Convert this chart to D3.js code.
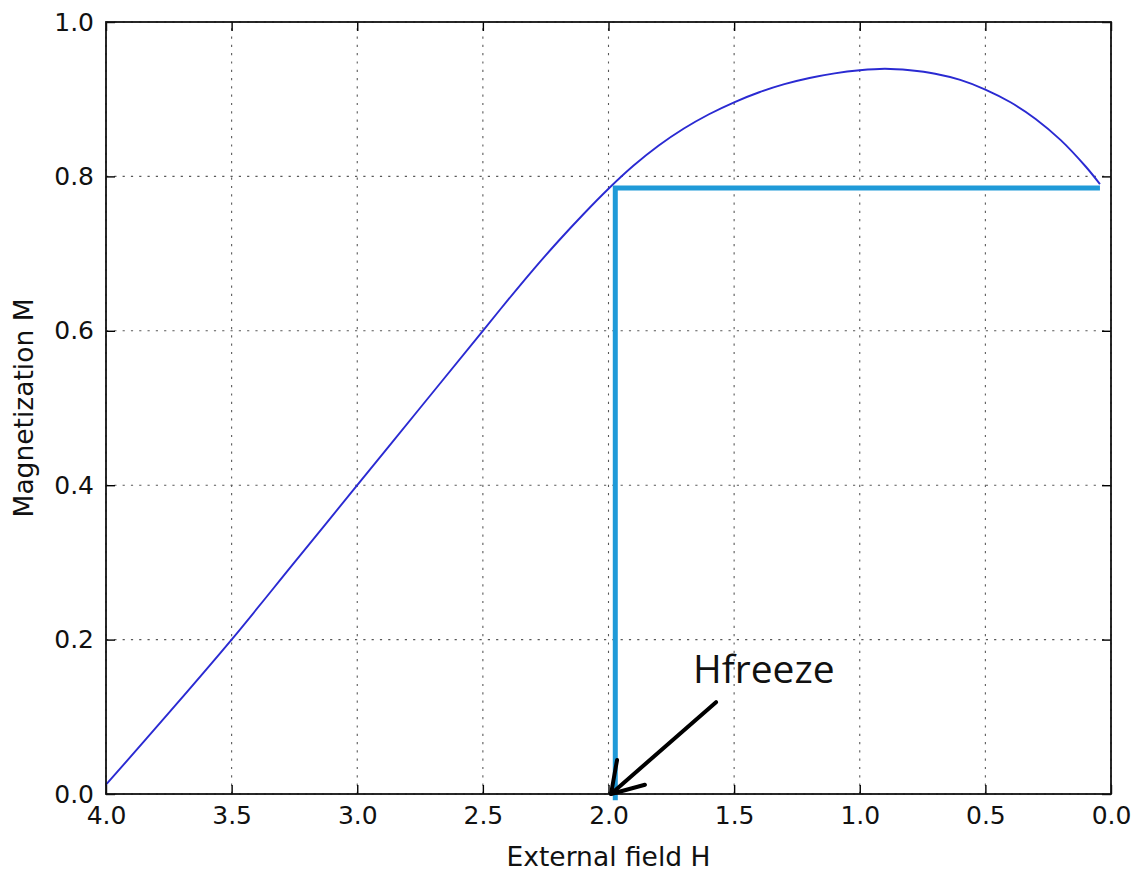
<!DOCTYPE html>
<html>
<head>
<meta charset="utf-8">
<script src="https://cdn.jsdelivr.net/npm/d3@7"></script>
<style>
  html, body { margin: 0; padding: 0; background: #fff; }
  svg { display: block; }
  .tick text { font-family: "DejaVu Sans", sans-serif; font-size: 25px; fill: #111; }
</style>
</head>
<body>
<svg id="chart" width="1142" height="873"></svg>
<script>
// Magnetization curve M(H), field swept from 4.0 down to 0.0
const fieldH = [4.0, 3.75, 3.5, 3.25, 3.0, 2.75, 2.5, 2.4, 2.3, 2.2, 2.1, 2.0, 1.9, 1.8, 1.7,
                1.6, 1.5, 1.4, 1.3, 1.2, 1.1, 1.0, 0.9, 0.8, 0.7, 0.6, 0.5, 0.4, 0.3,
                0.2, 0.1, 0.044];
const magM   = [0.012, 0.105, 0.200, 0.300, 0.400, 0.500, 0.600, 0.640, 0.679, 0.716, 0.751, 0.784, 0.814, 0.840, 0.862,
                0.8805, 0.896, 0.909, 0.9195, 0.9275, 0.9335, 0.9375, 0.9395, 0.9375, 0.933, 0.925, 0.9125, 0.896, 0.8745,
                0.847, 0.8125, 0.790];

// Freeze construction: horizontal level and vertical drop to the axis
const freezeH = [0.044, 1.973, 1.973];
const freezeM = [0.785, 0.785, -0.008];

// Hand-drawn arrow pointing at the freeze field
const arrowShaftH = [1.572, 1.990];
const arrowShaftM = [0.119, 0.0];
const arrowHeadH  = [1.966, 1.990, 1.855];
const arrowHeadM  = [0.044, 0.0, 0.012];
const annotationText = "Hfreeze";
const annotationH = 1.664, annotationM = 0.144;

const xTicks = [4.0, 3.5, 3.0, 2.5, 2.0, 1.5, 1.0, 0.5, 0.0];
const yTicks = [0.0, 0.2, 0.4, 0.6, 0.8, 1.0];
const xLabel = "External field H";
const yLabel = "Magnetization M";

const svg = d3.select("#chart");
const margin = { left: 106, right: 31, top: 22, bottom: 79 };
const W = 1142, Hh = 873;
const x = d3.scaleLinear().domain([4.0, 0.0]).range([margin.left, W - margin.right]);
const y = d3.scaleLinear().domain([0.0, 1.0]).range([Hh - margin.bottom, margin.top]);

const x0 = x.range()[0], x1 = x.range()[1], y0 = y.range()[0], y1 = y.range()[1];

// Dotted grid
const grid = svg.append("g").attr("stroke", "#000").attr("stroke-width", 1.1)
  .attr("stroke-dasharray", "2.2,6.1").attr("opacity", 0.65);
grid.selectAll("line.gx").data(xTicks).join("line").attr("class", "gx")
  .attr("x1", d => x(d)).attr("x2", d => x(d)).attr("y1", y0).attr("y2", y1);
grid.selectAll("line.gy").data(yTicks).join("line").attr("class", "gy")
  .attr("y1", d => y(d)).attr("y2", d => y(d)).attr("x1", x0).attr("x2", x1);

// Axes with inward ticks on all four sides
const fmt = d3.format(".1f");
const axB = svg.append("g").attr("transform", `translate(0,${y0})`)
  .call(d3.axisBottom(x).tickValues(xTicks).tickFormat(fmt).tickSizeInner(-9).tickSizeOuter(0).tickPadding(12));
const axL = svg.append("g").attr("transform", `translate(${x0},0)`)
  .call(d3.axisLeft(y).tickValues(yTicks).tickFormat(fmt).tickSizeInner(-9).tickSizeOuter(0).tickPadding(12));
const axT = svg.append("g").attr("transform", `translate(0,${y1})`)
  .call(d3.axisTop(x).tickValues(xTicks).tickFormat("").tickSizeInner(-9).tickSizeOuter(0));
const axR = svg.append("g").attr("transform", `translate(${x1},0)`)
  .call(d3.axisRight(y).tickValues(yTicks).tickFormat("").tickSizeInner(-9).tickSizeOuter(0));
[axB, axL, axT, axR].forEach(g => {
  g.select(".domain").remove();
  g.selectAll(".tick line").attr("stroke", "#000").attr("stroke-width", 1.4);
});

// Curve
const pts = fieldH.map((h, i) => [h, magM[i]]);
svg.append("path").datum(pts)
  .attr("fill", "none").attr("stroke", "#2a2ad2").attr("stroke-width", 1.9)
  .attr("d", d3.line().x(d => x(d[0])).y(d => y(d[1])).curve(d3.curveCatmullRom.alpha(0.5)));

// Freeze lines
const fpts = freezeH.map((h, i) => [h, freezeM[i]]);
svg.append("path").datum(fpts)
  .attr("fill", "none").attr("stroke", "#1f9ad8").attr("stroke-width", 5)
  .attr("stroke-linejoin", "miter")
  .attr("d", d3.line().x(d => x(d[0])).y(d => y(d[1])));

// Plot frame
svg.append("rect").attr("x", x0).attr("y", y1).attr("width", x1 - x0).attr("height", y0 - y1)
  .attr("fill", "none").attr("stroke", "#111").attr("stroke-width", 1.8);

// Arrow annotation
const lineXY = d3.line().x(d => x(d[0])).y(d => y(d[1]));
svg.append("path").datum(arrowShaftH.map((h, i) => [h, arrowShaftM[i]]))
  .attr("fill", "none").attr("stroke", "#000").attr("stroke-width", 4).attr("stroke-linecap", "round")
  .attr("d", lineXY);
svg.append("path").datum(arrowHeadH.map((h, i) => [h, arrowHeadM[i]]))
  .attr("fill", "none").attr("stroke", "#000").attr("stroke-width", 4)
  .attr("stroke-linecap", "round").attr("stroke-linejoin", "round")
  .attr("d", lineXY);
svg.append("text").attr("x", x(annotationH)).attr("y", y(annotationM))
  .attr("font-family", "'Open Sans', sans-serif").attr("font-size", 39).attr("fill", "#111")
  .text(annotationText);

// Axis titles
svg.append("text").attr("x", (x0 + x1) / 2).attr("y", 866).attr("text-anchor", "middle")
  .attr("font-family", "'DejaVu Sans', sans-serif").attr("font-size", 26.5).attr("fill", "#111")
  .text(xLabel);
svg.append("text").attr("transform", `translate(33,${(y0 + y1) / 2}) rotate(-90)`)
  .attr("text-anchor", "middle")
  .attr("font-family", "'DejaVu Sans', sans-serif").attr("font-size", 26.5).attr("fill", "#111")
  .text(yLabel);
</script>
</body>
</html>
